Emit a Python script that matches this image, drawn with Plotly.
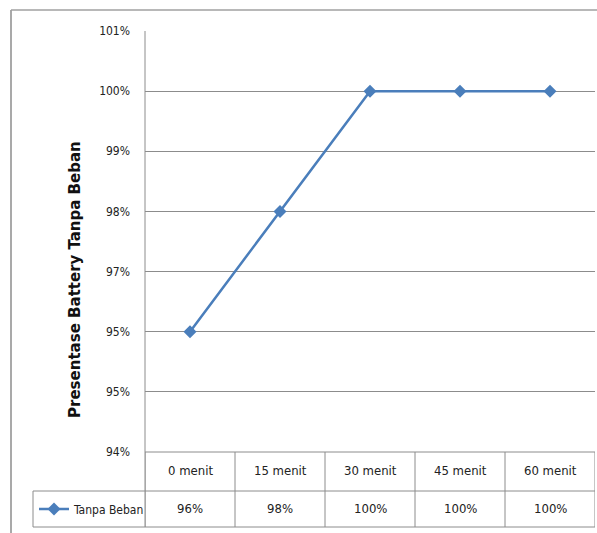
import plotly.graph_objects as go

categories = ["0 menit", "15 menit", "30 menit", "45 menit", "60 menit"]
values = [0.96, 0.98, 1.00, 1.00, 1.00]
value_labels = ["96%", "98%", "100%", "100%", "100%"]
series_name = "Tanpa Beban"
ytick_vals = [0.94, 0.95, 0.96, 0.97, 0.98, 0.99, 1.00, 1.01]
ytick_text = ["94%", "95%", "95%", "97%", "98%", "99%", "100%", "101%"]
y_title = "Presentase Battery Tanpa Beban"

W, H = 597, 533
L, R, T, B = 145, 2, 31, 81
plot_w = W - L - R
plot_h = H - T - B


def px_to_px(x):
    return (x - L) / plot_w


def py_to_py(y):
    return (H - B - y) / plot_h


FONT = "Liberation Sans Narrow, DejaVu Sans Condensed, Liberation Sans, sans-serif"
LINE_COL = "#4A7EBB"
GRID_COL = "#8c8c8c"

fig = go.Figure()
fig.add_trace(go.Scatter(
    x=list(range(len(categories))), y=values, mode="lines+markers",
    name=series_name,
    line=dict(color=LINE_COL, width=2.5),
    marker=dict(symbol="diamond", size=10, color=LINE_COL),
))

shapes = []
# outer frame (cropped)
shapes.append(dict(type="line", xref="paper", yref="paper",
                   x0=px_to_px(11), x1=px_to_px(11), y0=py_to_py(10), y1=py_to_py(545),
                   line=dict(color=GRID_COL, width=1.5)))
shapes.append(dict(type="line", xref="paper", yref="paper",
                   x0=px_to_px(11), x1=px_to_px(610), y0=py_to_py(10), y1=py_to_py(10),
                   line=dict(color="#a0a0a0", width=1.5)))
# table vertical lines
n = len(categories)
for i in range(n + 1):
    shapes.append(dict(type="line", xref="x", yref="paper",
                       x0=i - 0.5, x1=i - 0.5, y0=0, y1=py_to_py(527),
                       line=dict(color=GRID_COL, width=1)))
# table horizontal lines
for yy in (491, 527):
    shapes.append(dict(type="line", xref="paper", yref="paper",
                       x0=px_to_px(33), x1=1, y0=py_to_py(yy), y1=py_to_py(yy),
                       line=dict(color=GRID_COL, width=1)))
shapes.append(dict(type="line", xref="x", yref="paper",
                   x0=-0.5, x1=n - 0.5, y0=0, y1=0,
                   line=dict(color=GRID_COL, width=1)))
# legend cell left border
shapes.append(dict(type="line", xref="paper", yref="paper",
                   x0=px_to_px(33), x1=px_to_px(33), y0=py_to_py(491), y1=py_to_py(527),
                   line=dict(color=GRID_COL, width=1)))
# axis line extends through table
shapes.append(dict(type="line", xref="paper", yref="paper",
                   x0=0, x1=0, y0=1, y1=py_to_py(527),
                   line=dict(color=GRID_COL, width=1)))

annotations = []
for i, c in enumerate(categories):
    annotations.append(dict(x=i, y=py_to_py(471), xref="x", yref="paper",
                            xanchor="center", yanchor="middle",
                            text=c, showarrow=False,
                            font=dict(family=FONT, size=13, color="#222")))
for i, v in enumerate(value_labels):
    annotations.append(dict(x=i, y=py_to_py(508), xref="x", yref="paper",
                            xanchor="center", yanchor="middle",
                            text=v, showarrow=False,
                            font=dict(family=FONT, size=13, color="#222")))
annotations.append(dict(x=px_to_px(74), y=py_to_py(280), xref="paper", yref="paper",
                        xanchor="center", yanchor="middle",
                        text="<b>" + y_title + "</b>", textangle=-90, showarrow=False,
                        font=dict(family=FONT, size=16.7, color="#111")))

fig.update_layout(
    width=W, height=H,
    margin=dict(l=L, r=R, t=T, b=B),
    paper_bgcolor="white", plot_bgcolor="white",
    showlegend=True,
    legend=dict(x=px_to_px(34), y=py_to_py(509), xanchor="left", yanchor="middle",
                xref="paper", yref="paper",
                font=dict(family=FONT, size=12, color="#222"),
                itemwidth=30, bgcolor="rgba(0,0,0,0)", tracegroupgap=0),
    shapes=shapes,
    annotations=annotations,
    font=dict(family=FONT, size=13, color="#222"),
)
fig.update_xaxes(range=[-0.5, n - 0.5], showgrid=False, zeroline=False,
                 showticklabels=False, showline=False, fixedrange=True)
fig.update_yaxes(range=[0.94, 1.01], tickvals=ytick_vals, ticktext=ytick_text,
                 showgrid=True, gridcolor=GRID_COL, gridwidth=1,
                 zeroline=False, showline=False, ticklabelstandoff=14,
                 tickfont=dict(family=FONT, size=12, color="#222"))

fig.write_html(
    "out.html",
    config={"displayModeBar": False},
    post_script="document.body.style.margin='0';document.body.style.overflow='hidden';"
                "document.documentElement.style.overflow='hidden';",
)
